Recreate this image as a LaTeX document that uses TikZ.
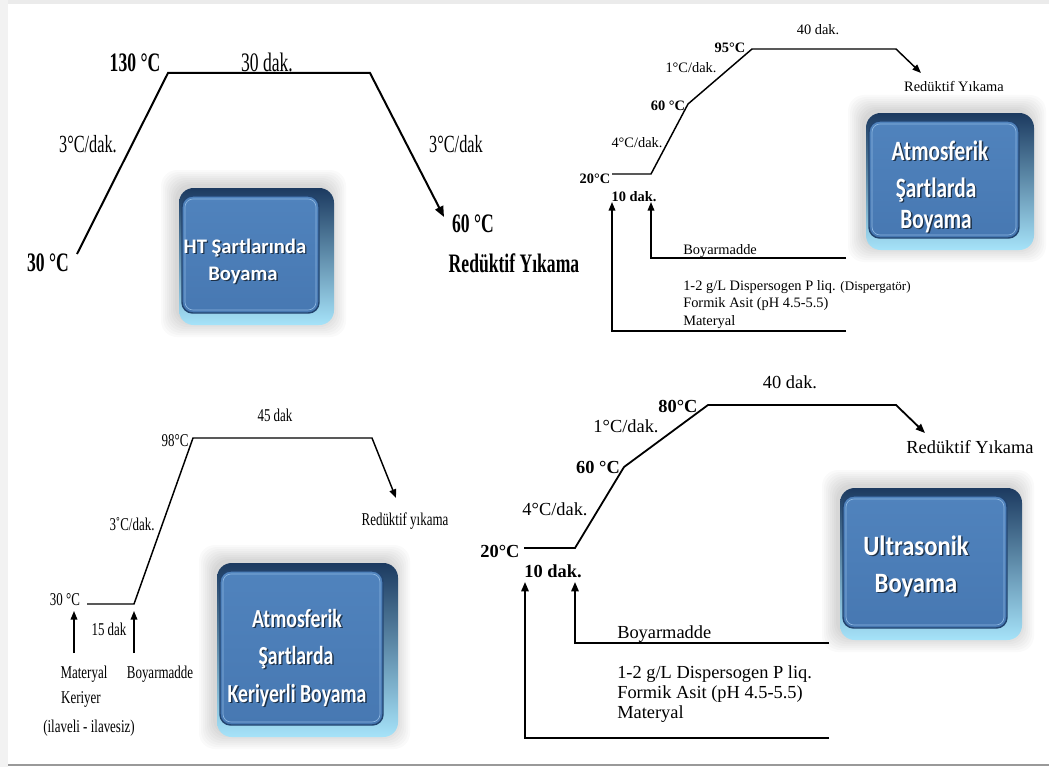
\documentclass[tikz,border=0pt]{standalone}
\usepackage{fontspec}
\setmainfont{Liberation Serif}
\newfontfamily\condf[FakeStretch=0.66]{Liberation Serif}
\newfontfamily\condg[FakeStretch=0.72]{Liberation Serif}
\newfontfamily\boxfn{Carlito}
\newfontfamily\boxfa[FakeStretch=0.76]{Carlito}
\newfontfamily\boxfb[FakeStretch=0.88]{Carlito}
\usetikzlibrary{arrows.meta}
\definecolor{bevtop}{HTML}{1C3A60}
\definecolor{bevmid}{HTML}{4F93C8}
\definecolor{bevbot}{HTML}{A6E3F9}
\definecolor{faceA}{HTML}{5083BD}
\definecolor{faceB}{HTML}{4778B2}
\definecolor{faceline}{HTML}{22446F}
\definecolor{facehi}{HTML}{8DB6E0}
\newcommand{\fpA}{\condf\fontsize{20}{22}\selectfont}
\newcommand{\fpAs}{\condf\fontsize{18.5}{20}\selectfont}
\newcommand{\fpB}{\rmfamily\fontsize{10.8}{12}\selectfont}
\newcommand{\fpC}{\condg\fontsize{13.5}{15}\selectfont}
\newcommand{\fpD}{\rmfamily\fontsize{13.8}{16}\selectfont}
\newcommand{\bevelbox}[4]{%
  \foreach \s in {16,14,...,2}{\fill[black,opacity=0.018,rounded corners=12pt] (#1-\s-2,#2-\s-2) rectangle (#3+\s-4,#4+\s-4);}
  \shade[rounded corners=11pt, top color=bevtop, middle color=bevmid, bottom color=bevbot] (#1,#2) rectangle (#3,#4);
  \shade[rounded corners=8pt, top color=faceA, bottom color=faceB] (#1+3,#2+8) rectangle (#3-15,#4-12);
  \draw[faceline, line width=1.1pt, rounded corners=8pt] (#1+3,#2+8) rectangle (#3-15,#4-12);
  \draw[facehi, line width=0.5pt, rounded corners=6pt] (#1+6,#2+11) rectangle (#3-18,#4-15);
}
\newcommand{\boxline}[5]{%
  \node[boxshadow, font=#4] (#1s) at (#2+1.4,#3+1.4) {#5};
  \node[boxtext, font=#4] (#1) at (#2,#3) {#5};
}
\begin{document}
\begin{tikzpicture}[x=0.75pt,y=-0.75pt,
  lbl/.style={inner sep=0pt, anchor=base},
  lbll/.style={inner sep=0pt, anchor=base west},
  boxshadow/.style={inner sep=0pt, anchor=base, text=black, opacity=0.6},
  boxtext/.style={inner sep=0pt, anchor=base, text=white},
  curveA/.style={line width=1.5pt, line join=miter},
  curveB/.style={line width=1.1pt, line join=miter},
  curveD/.style={line width=1.35pt, line join=miter},
  tipA/.style={-{Triangle[length=8pt,width=6.5pt]}},
  tipB/.style={-{Triangle[length=6.5pt,width=5pt]}},
  tipD/.style={-{Triangle[length=7pt,width=5.5pt]}}]
\useasboundingbox (0,0) rectangle (1049,767);
\fill[white] (0,0) rectangle (1049,767);
% frame
\fill[black!8] (0,0) rectangle (1049,4);
\fill[black!5] (0,0) rectangle (8,767);
\fill[black!40] (8,763.5) rectangle (1049,765.5);

% ================= Panel 1 =================
\coordinate (p1a) at (77,254);
\coordinate (p1b) at (168,73);
\coordinate (p1c) at (370,73);
\coordinate (p1d) at (444,217);
\draw[curveA, tipA] (p1a) -- (p1b) -- (p1c) -- (p1d);
\node[lbl, font=\fpA\bfseries] (t130) at (135,72) {130 °C};
\node[lbl, font=\fpA] (t30dak) at (267,72) {30 dak.};
\node[lbl, font=\fpAs] (tsl1) at (88,152) {3°C/dak.};
\node[lbl, font=\fpAs] (tsl2) at (456,152) {3°C/dak};
\node[lbl, font=\fpA\bfseries] (t30c) at (48,271) {30 °C};
\node[lbl, font=\fpA\bfseries] (t60c) at (473,232) {60 °C};
\node[lbl, font=\fpA\bfseries] (tred1) at (514,272) {Redüktif Yıkama};
\bevelbox{179}{188}{334}{325}
\boxline{b1a}{245}{253}{\boxfn\bfseries\fontsize{15.5}{18}\selectfont}{HT Şartlarında}
\boxline{b1b}{243}{280}{\boxfn\bfseries\fontsize{15.5}{18}\selectfont}{Boyama}

% ================= Panel 2 =================
\coordinate (p2a) at (612,174);
\coordinate (p2b) at (651,174);
\coordinate (p2c) at (688,104);
\coordinate (p2d) at (752,49);
\coordinate (p2e) at (896,49);
\coordinate (p2f) at (921,73);
\draw[curveB, tipB] (p2a) -- (p2b) -- (p2c) -- (p2d) -- (p2e) -- (p2f);
\coordinate (p2m0) at (846,331);
\coordinate (p2m1) at (612,331);
\coordinate (p2m2) at (612,202);
\coordinate (p2n0) at (846,258);
\coordinate (p2n1) at (651,258);
\coordinate (p2n2) at (651,202);
\draw[curveB, tipB] (p2m0) -- (p2m1) -- (p2m2);
\draw[curveB, tipB] (p2n0) -- (p2n1) -- (p2n2);
\node[lbl, font=\fpB] (u40) at (818,35) {40 dak.};
\node[lbl, font=\fpB\bfseries] (u95) at (730,53) {95°C};
\node[lbl, font=\fpB] (usl1) at (691,73) {1°C/dak.};
\node[lbl, font=\fpB\bfseries] (u60) at (668,110) {60 °C};
\node[lbl, font=\fpB] (usl2) at (637,147) {4°C/dak.};
\node[lbl, font=\fpB\bfseries] (u20) at (595,183) {20°C};
\node[lbl, font=\fpB\bfseries] (u10) at (634,201) {10 dak.};
\node[lbl, font=\fpB] (ured) at (954,91) {Redüktif Yıkama};
\node[lbll, font=\fpB] (uboy) at (683,254) {Boyarmadde};
\node[lbll, font=\fpB] (udis) at (683,290) {1-2 g/L Dispersogen P liq. {\fontsize{9.8}{12}\selectfont(Dispergatör)}};
\node[lbll, font=\fpB] (ufor) at (683,307) {Formik Asit (pH 4.5-5.5)};
\node[lbll, font=\fpB] (umat) at (683,325) {Materyal};
\bevelbox{866}{113}{1034}{250}
\boxline{b2a}{940}{160}{\boxfa\bfseries\fontsize{21}{24}\selectfont}{Atmosferik}
\boxline{b2b}{936}{197}{\boxfa\bfseries\fontsize{21}{24}\selectfont}{Şartlarda}
\boxline{b2c}{936}{228}{\boxfa\bfseries\fontsize{21}{24}\selectfont}{Boyama}

% ================= Panel 3 =================
\coordinate (p3a) at (87,604);
\coordinate (p3b) at (134,604);
\coordinate (p3c) at (193,438);
\coordinate (p3d) at (372,438);
\coordinate (p3e) at (396,498);
\draw[curveB, tipB] (p3a) -- (p3b) -- (p3c) -- (p3d) -- (p3e);
\coordinate (p3m0) at (74,653);
\coordinate (p3m1) at (74,611);
\coordinate (p3n0) at (134,653);
\coordinate (p3n1) at (134,611);
\draw[curveB, tipB] (p3m0) -- (p3m1);
\draw[curveB, tipB] (p3n0) -- (p3n1);
\node[lbl, font=\fpC] (v45) at (275,421) {45 dak};
\node[lbl, font=\fpC] (v98) at (175,446) {98°C};
\node[lbl, font=\fpC] (vsl) at (132,530) {3˚C/dak.};
\node[lbl, font=\fpC] (vred) at (405,525) {Redüktif yıkama};
\node[lbl, font=\fpC] (v30) at (65,605) {30 °C};
\node[lbl, font=\fpC] (v15) at (109,635) {15 dak};
\node[lbl, font=\fpC] (vmat) at (84,678) {Materyal};
\node[lbl, font=\fpC] (vker) at (81,703) {Keriyer};
\node[lbl, font=\fpC] (vila) at (89,732) {(ilaveli - ilavesiz)};
\node[lbl, font=\fpC] (vboy) at (160,678) {Boyarmadde};
\bevelbox{217}{563}{398}{737}
\boxline{b3a}{297}{627}{\boxfa\bfseries\fontsize{19.5}{22}\selectfont}{Atmosferik}
\boxline{b3b}{296}{664}{\boxfa\bfseries\fontsize{19.5}{22}\selectfont}{Şartlarda}
\boxline{b3c}{297}{702}{\boxfa\bfseries\fontsize{19.5}{22}\selectfont}{Keriyerli Boyama}

% ================= Panel 4 =================
\coordinate (p4a) at (524,548);
\coordinate (p4b) at (575,548);
\coordinate (p4c) at (624,467);
\coordinate (p4d) at (708,405);
\coordinate (p4e) at (896,405);
\coordinate (p4f) at (925,433);
\draw[curveD, tipD] (p4a) -- (p4b) -- (p4c) -- (p4d) -- (p4e) -- (p4f);
\coordinate (p4m0) at (829,738);
\coordinate (p4m1) at (525,738);
\coordinate (p4m2) at (525,582);
\coordinate (p4n0) at (829,643);
\coordinate (p4n1) at (575,643);
\coordinate (p4n2) at (575,582);
\draw[curveD, tipD] (p4m0) -- (p4m1) -- (p4m2);
\draw[curveD, tipD] (p4n0) -- (p4n1) -- (p4n2);
\node[lbl, font=\fpD] (w40) at (790,388) {40 dak.};
\node[lbl, font=\fpD\bfseries] (w80) at (678,412) {80°C};
\node[lbl, font=\fpD] (wsl1) at (626,432) {1°C/dak.};
\node[lbl, font=\fpD\bfseries] (w60) at (598,473) {60 °C};
\node[lbl, font=\fpD] (wsl2) at (555,515) {4°C/dak.};
\node[lbl, font=\fpD\bfseries] (w20) at (500,557) {20°C};
\node[lbl, font=\fpD\bfseries] (w10) at (553,577) {10 dak.};
\node[lbl, font=\fpD] (wred) at (970,453) {Redüktif Yıkama};
\node[lbll, font=\fpD] (wboy) at (617,638) {Boyarmadde};
\node[lbll, font=\fpD] (wdis) at (617,678) {1-2 g/L Dispersogen P liq.};
\node[lbll, font=\fpD] (wfor) at (617,698) {Formik Asit (pH 4.5-5.5)};
\node[lbll, font=\fpD] (wmat) at (617,718) {Materyal};
\bevelbox{840}{488}{1022}{640}
\boxline{b4a}{916}{555}{\boxfb\bfseries\fontsize{21}{24}\selectfont}{Ultrasonik}
\boxline{b4b}{916}{592}{\boxfb\bfseries\fontsize{21}{24}\selectfont}{Boyama}
\end{tikzpicture}
\end{document}
